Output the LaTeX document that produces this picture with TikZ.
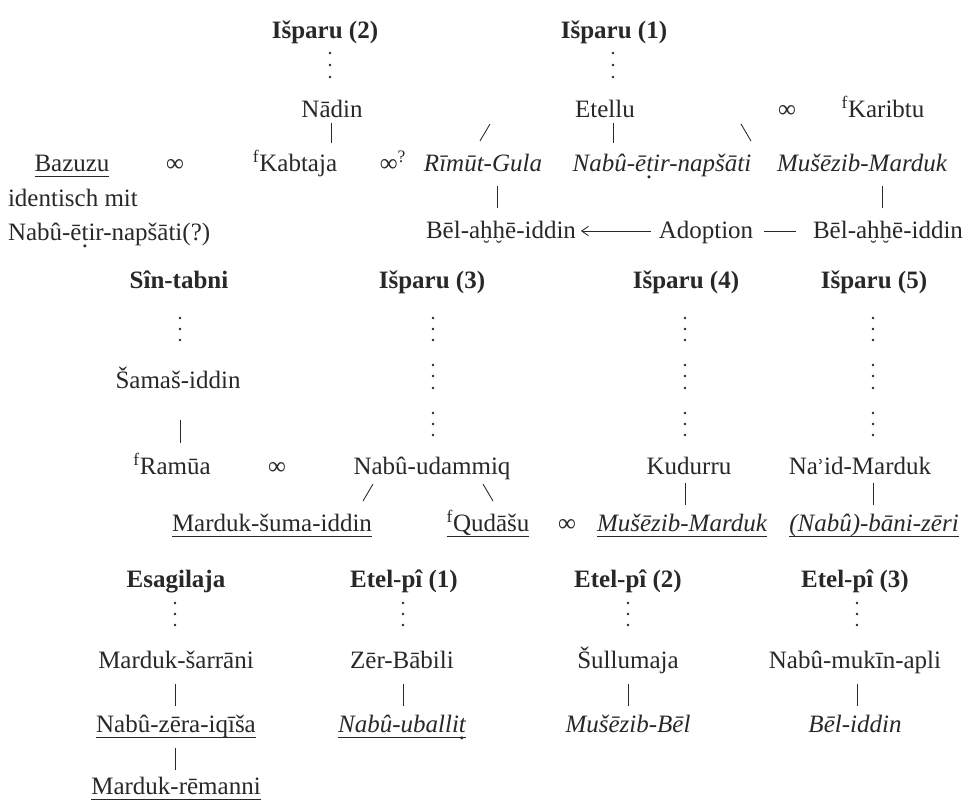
\documentclass[tikz,border=0pt]{standalone}
\usepackage{fontspec}
\usepackage{graphicx}
\setmainfont{Liberation Serif}
\newfontfamily\dvs{DejaVu Serif}
\usetikzlibrary{arrows.meta}
\definecolor{ink}{RGB}{40,40,40}
\newcommand\tdot{\ooalign{t\cr\hidewidth\raisebox{-0.30em}{.}\hidewidth\cr}}
\newcommand\hbr{\ooalign{h\cr\hidewidth\raisebox{-0.62em}{\scalebox{0.75}{˘}}\hidewidth\cr}}
\begin{document}
\begin{tikzpicture}[x=0.75pt,y=-0.75pt,
  every node/.style={inner sep=0pt,outer sep=0pt,anchor=base,text=ink,font=\fontsize{18.75pt}{22pt}\selectfont},
  hd/.style={font=\fontsize{18.75pt}{22pt}\selectfont\bfseries},
  it/.style={font=\fontsize{18.75pt}{22pt}\selectfont\itshape},
  ln/.style={draw=ink,line width=0.65pt},
  arr/.style={ln,-{Straight Barb[length=5pt,width=7pt,line width=0.65pt]}},
  dotc/.style={fill=ink}]
\useasboundingbox[fill=white] (0,0) rectangle (965,801);

% ---- group Isparu (1)/(2)
\node[hd] (isp2) at (325,38) {Išparu (2)};
\node[hd] (isp1) at (614,38) {Išparu (1)};
\node (nadin) at (332,117) {Nādin};
\node (etellu) at (605,117) {Etellu};
\node (inf1) at (787,117) {∞};
\node (karibtu) at (883,117) {\textsuperscript{f}Karibtu};
\node (bazuzu) at (72,171) {Bazuzu};
\node (inf2) at (175,171) {∞};
\node (kabtaja) at (295,171) {\textsuperscript{f}Kabtaja};
\node (inf3) at (393,171) {∞\textsuperscript{?}};
\node[it] (rimut) at (483,171) {Rīmūt-Gula};
\node[it] (nabuetir) at (662,171) {Nabû-ē\tdot ir-napšāti};
\node[it] (musezib1) at (862,171) {Mušēzib-Marduk};
\node[anchor=base west] (ident) at (8,206) {identisch mit};
\node[anchor=base west] (nabuq) at (8,240) {Nabû-ē\tdot ir-napšāti(?)};
\node (bel1) at (501,238) {Bēl-a\hbr\hbr ē-iddin};
\node (adopt) at (706,238) {Adoption};
\node (bel2) at (888,238) {Bēl-a\hbr\hbr ē-iddin};

% ---- second block
\node[hd] (sin) at (179,288) {Sîn-tabni};
\node[hd] (isp3) at (432,288) {Išparu (3)};
\node[hd] (isp4) at (686,288) {Išparu (4)};
\node[hd] (isp5) at (874,288) {Išparu (5)};
\node (samas) at (178,388) {Šamaš-iddin};
\node (ramua) at (172,474) {\textsuperscript{f}Ramūa};
\node (inf4) at (277,474) {∞};
\node (udammiq) at (432,474) {Nabû-udammiq};
\node (kudurru) at (689,474) {Kudurru};
\node (naid) at (860,474) {Na{\dvs\fontsize{15pt}{18pt}\selectfont ʾ}id-Marduk};
\node (msi) at (272,531) {Marduk-šuma-iddin};
\node (qudasu) at (488,531) {\textsuperscript{f}Qudāšu};
\node (inf5) at (567,531) {∞};
\node[it] (musezib2) at (682,531) {Mušēzib-Marduk};
\node[it] (bani) at (874,531) {(Nabû)-bāni-zēri};

% ---- third block
\node[hd] (esag) at (176,587) {Esagilaja};
\node[hd] (etel1) at (404,587) {Etel-pî (1)};
\node[hd] (etel2) at (628,587) {Etel-pî (2)};
\node[hd] (etel3) at (855,587) {Etel-pî (3)};
\node (msar) at (176,668) {Marduk-šarrāni};
\node (zer) at (402,668) {Zēr-Bābili};
\node (sull) at (628,668) {Šullumaja};
\node (mukin) at (855,668) {Nabû-mukīn-apli};
\node (nzi) at (176,732) {Nabû-zēra-iqīša};
\node[it] (uballit) at (402,732) {Nabû-uballi\tdot};
\node[it] (mbel) at (628,732) {Mušēzib-Bēl};
\node[it] (beliddin) at (855,732) {Bēl-iddin};
\node (mrem) at (176,794) {Marduk-rēmanni};

% ---- underlines
\foreach \n in {bazuzu,msi,qudasu,musezib2,bani,nzi,uballit,mrem}
  \draw[ln] ([yshift=-4pt]\n.base west) -- ([yshift=-4pt]\n.base east);

% ---- dotted descents
\foreach \x/\y in {330/53,330/65,330/77,613/53,613/65,613/77,
  180/318,180/329,180/340,
  433/318,433/329,433/340,433/365,433/376,433/388,433/413,433/424,433/435,
  685/318,685/329,685/340,685/365,685/376,685/388,685/413,685/424,685/435,
  873/318,873/329,873/340,873/365,873/376,873/388,873/413,873/424,873/435,
  175/603,175/614,175/625,403/603,403/614,403/625,
  628/603,628/614,628/625,857/603,857/614,857/625}
  \fill[dotc] (\x,\y) circle[radius=1.4];

% ---- short connectors
\coordinate (a1) at (331,123); \coordinate (a2) at (331,143);
\coordinate (b1) at (490,124); \coordinate (b2) at (480,141);
\coordinate (c1) at (613,123); \coordinate (c2) at (613,143);
\coordinate (d1) at (741,124); \coordinate (d2) at (751,141);
\coordinate (e1) at (497,186); \coordinate (e2) at (497,208);
\coordinate (f1) at (882,186); \coordinate (f2) at (882,208);
\coordinate (g1) at (180,420); \coordinate (g2) at (180,443);
\coordinate (h1) at (373,484); \coordinate (h2) at (363,501);
\coordinate (i1) at (483,484); \coordinate (i2) at (493,501);
\coordinate (j1) at (685,483); \coordinate (j2) at (685,505);
\coordinate (k1) at (873,483); \coordinate (k2) at (873,505);
\coordinate (l1) at (175,684); \coordinate (l2) at (175,706);
\coordinate (m1) at (403,684); \coordinate (m2) at (403,706);
\coordinate (n1) at (628,684); \coordinate (n2) at (628,706);
\coordinate (o1) at (857,684); \coordinate (o2) at (857,706);
\coordinate (p1) at (175,748); \coordinate (p2) at (175,770);
\foreach \s in {a,b,c,d,e,f,g,h,i,j,k,l,m,n,o,p}
  \draw[ln] (\s1) -- (\s2);

% ---- adoption
\draw[arr] ([shift={(-8,-7)}]adopt.base west) -- ([shift={(5,-7)}]bel1.base east);
\draw[ln] ([shift={(11,-7)}]adopt.base east) -- ([shift={(-17,-7)}]bel2.base west);
\end{tikzpicture}
\end{document}
